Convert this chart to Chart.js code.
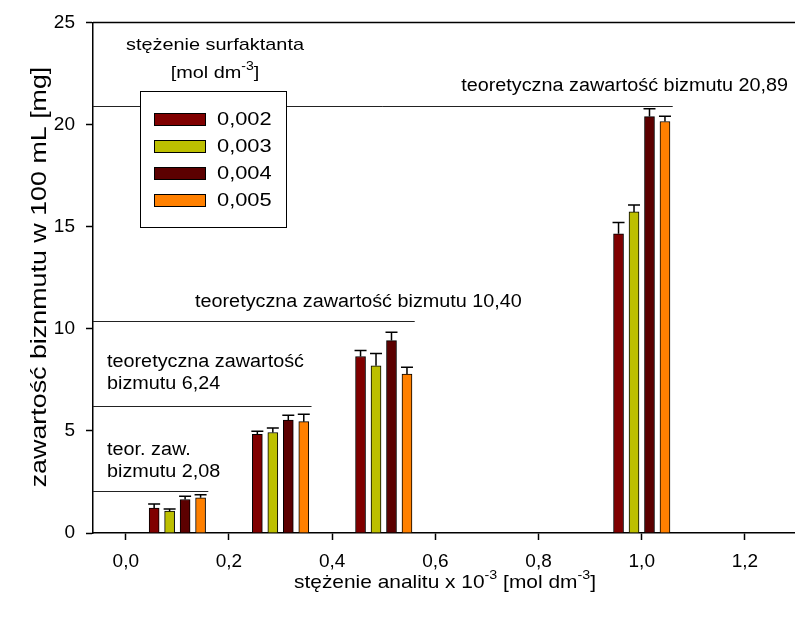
<!DOCTYPE html>
<html>
<head>
<meta charset="utf-8">
<script src="https://cdn.jsdelivr.net/npm/chart.js@4.4.1/dist/chart.umd.min.js"></script>
<style>
  html, body { margin: 0; padding: 0; background: #fff; }
  #wrap { width: 795px; height: 620px; }
</style>
</head>
<body>
<div id="wrap"><canvas id="chart"></canvas></div>
<script>
// analyte concentration groups (x 10^-3 mol dm^-3)
const groups = [0.1, 0.3, 0.5, 1.0];
const seriesNames = ['0,002', '0,003', '0,004', '0,005'];
// bismuth content [mg] per surfactant concentration
const s002 = [1.22, 4.83, 8.64, 14.65];
const s003 = [1.07, 4.92, 8.19, 15.72];
const s004 = [1.64, 5.53, 9.42, 20.39];
const s005 = [1.72, 5.45, 7.78, 20.15];
// upper error bars
const e002 = [0.20, 0.15, 0.30, 0.55];
const e003 = [0.10, 0.22, 0.60, 0.34];
const e004 = [0.16, 0.23, 0.41, 0.38];
const e005 = [0.15, 0.37, 0.34, 0.26];
// theoretical bismuth content lines
const theoValues = [2.08, 6.24, 10.40, 20.89];
const theoLabels = [
  ['teor. zaw.', 'bizmutu 2,08'],
  ['teoretyczna zawartość', 'bizmutu 6,24'],
  ['teoretyczna zawartość bizmutu 10,40'],
  ['teoretyczna zawartość bizmutu 20,89']
];
const xTicks = [0, 0.2, 0.4, 0.6, 0.8, 1.0, 1.2];
const yTicks = [0, 5, 10, 15, 20, 25];
const yTitle = 'zawartość biznmutu w 100 mL [mg]';

const seriesValues = [s002, s003, s004, s005];
const seriesErrors = [e002, e003, e004, e005];
const colors = ['#800000', '#bdbf00', '#5c0000', '#ff8000'];
const barStep = 0.03;
const lineOverhang = 0.06;
const FONT = 'Arial, "Liberation Sans", sans-serif';

// text anchors for the theoretical-line captions: [x, first line y] in px, align
const captionPos = [
  { x: 107, y: 450, align: 'left' },
  { x: 107, y: 362, align: 'left' },
  { x: 195, y: 302, align: 'left' },
  { x: 788, y: 86, align: 'right' }
];

function drawRuns(ctx, runs, x, y, size, sx, align) {
  const supSize = Math.round(size * 0.7);
  let total = 0;
  runs.forEach(r => {
    ctx.font = (r.sup ? supSize : size) + 'px ' + FONT;
    r.w = ctx.measureText(r.t).width * sx;
    total += r.w;
  });
  let cx = align === 'center' ? x - total / 2 : align === 'right' ? x - total : x;
  ctx.textBaseline = 'middle';
  ctx.textAlign = 'left';
  runs.forEach(r => {
    ctx.font = (r.sup ? supSize : size) + 'px ' + FONT;
    ctx.save();
    ctx.translate(cx, r.sup ? y - size * 0.38 : y);
    ctx.scale(sx, 1);
    ctx.fillText(r.t, 0, 0);
    ctx.restore();
    cx += r.w;
  });
}

const decorations = {
  id: 'decorations',
  afterDatasetsDraw(chart) {
    const ctx = chart.ctx;
    const xs = chart.scales.x, ys = chart.scales.y;
    const area = chart.chartArea;
    ctx.save();
    ctx.fillStyle = '#000';
    ctx.strokeStyle = '#000';

    // error bars (upper only)
    ctx.lineWidth = 1.5;
    seriesValues.forEach((vals, i) => {
      const meta = chart.getDatasetMeta(i);
      meta.data.forEach((el, j) => {
        const top = ys.getPixelForValue(vals[j] + seriesErrors[i][j]);
        ctx.beginPath();
        ctx.moveTo(el.x, el.y);
        ctx.lineTo(el.x, top);
        ctx.moveTo(el.x - 6, top);
        ctx.lineTo(el.x + 6, top);
        ctx.stroke();
      });
    });

    // theoretical lines
    ctx.lineWidth = 1;
    ctx.strokeStyle = '#222';
    theoValues.forEach((v, k) => {
      const y = Math.round(ys.getPixelForValue(v)) + 0.5;
      ctx.beginPath();
      ctx.moveTo(area.left, y);
      ctx.lineTo(xs.getPixelForValue(groups[k] + lineOverhang), y);
      ctx.stroke();
      const p = captionPos[k];
      theoLabels[k].forEach((line, n) => {
        drawRuns(ctx, [{ t: line }], p.x, p.y + n * 22, 18, 1.1, p.align);
      });
    });

    // top frame line
    ctx.strokeStyle = '#000';
    ctx.lineWidth = 1.5;
    ctx.beginPath();
    ctx.moveTo(area.left, area.top);
    ctx.lineTo(area.right, area.top);
    ctx.stroke();

    // legend title
    drawRuns(ctx, [{ t: 'stężenie surfaktanta' }], 215, 45, 17, 1.17, 'center');
    drawRuns(ctx, [{ t: '[mol dm' }, { t: '-3', sup: true }, { t: ']' }], 215, 73, 17, 1.17, 'center');

    // legend box
    ctx.fillStyle = '#fff';
    ctx.fillRect(140, 91, 146, 136);
    ctx.lineWidth = 1;
    ctx.strokeRect(140.5, 91.5, 146, 136);
    seriesNames.forEach((name, i) => {
      const cy = 119 + i * 27;
      ctx.fillStyle = colors[i];
      ctx.fillRect(154, cy - 6, 51, 12);
      ctx.strokeStyle = '#000';
      ctx.strokeRect(154.5, cy - 5.5, 51, 12);
      ctx.fillStyle = '#000';
      drawRuns(ctx, [{ t: name }], 217, cy + 1, 19, 1.15, 'left');
    });

    // x axis title
    drawRuns(ctx, [
      { t: 'stężenie analitu x 10' }, { t: '-3', sup: true },
      { t: ' [mol dm' }, { t: '-3', sup: true }, { t: ']' }
    ], 445, 583, 19, 1.1, 'center');

    // y axis title (rotated)
    ctx.save();
    ctx.translate(40, 277);
    ctx.rotate(-Math.PI / 2);
    drawRuns(ctx, [{ t: yTitle }], 0, 0, 22, 1.22, 'center');
    ctx.restore();
    ctx.restore();
  }
};

const datasets = seriesValues.map((vals, i) => ({
  label: seriesNames[i],
  data: vals.map((v, j) => ({ x: groups[j] + (i - 1.5) * barStep, y: v })),
  backgroundColor: colors[i],
  borderColor: '#000',
  borderWidth: 1,
  barThickness: 10,
  grouped: false
}));

const axisCommon = {
  border: { color: '#000', width: 1.5 },
  grid: { drawOnChartArea: false, drawTicks: true, tickLength: 7, color: '#000', tickWidth: 1.5, offset: false },
  ticks: { color: '#000', font: { family: FONT, size: 19 }, padding: 8 }
};

new Chart(document.getElementById('chart').getContext('2d'), {
  type: 'bar',
  data: { datasets },
  options: {
    responsive: true,
    maintainAspectRatio: false,
    animation: false,
    layout: { padding: { top: 21, right: 0, left: 0, bottom: 0 } },
    plugins: { legend: { display: false }, tooltip: { enabled: false } },
    scales: {
      x: {
        type: 'linear',
        offset: false,
        min: -0.0635,
        max: 1.297,
        ...axisCommon,
        ticks: { ...axisCommon.ticks, padding: 10, callback: v => v.toFixed(1).replace('.', ',') },
        afterBuildTicks: s => { s.ticks = xTicks.map(v => ({ value: v })); },
        afterFit: s => { s.height = 87; }
      },
      y: {
        min: 0,
        max: 25,
        ...axisCommon,
        ticks: { ...axisCommon.ticks, padding: 11 },
        afterBuildTicks: s => { s.ticks = yTicks.map(v => ({ value: v })); },
        afterFit: s => { s.width = 93; }
      }
    }
  },
  plugins: [decorations]
});
</script>
</body>
</html>
